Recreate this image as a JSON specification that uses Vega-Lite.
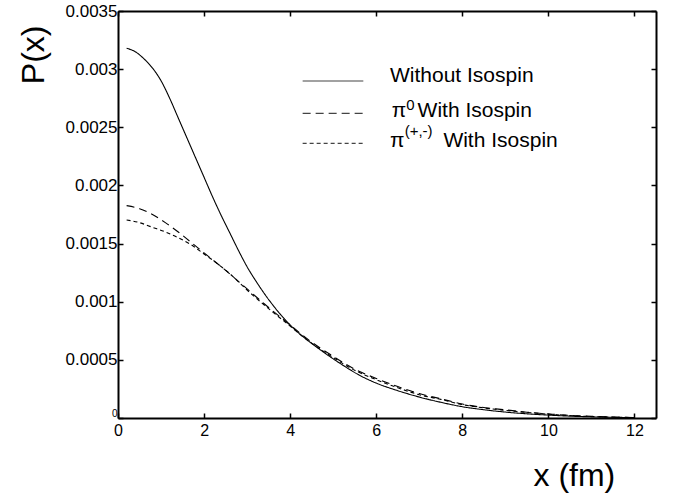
{
  "$schema": "https://vega.github.io/schema/vega-lite/v6.json",
  "width": 538,
  "height": 407,
  "autosize": "none",
  "padding": {"left": 118, "top": 11, "right": 19, "bottom": 75},
  "background": "white",
  "config": {
    "font": "Liberation Sans",
    "view": {"stroke": null},
    "axis": {"grid": false, "domainColor": "black", "tickColor": "black", "labelColor": "black", "titleColor": "black", "labelFont": "Liberation Sans", "titleFont": "Liberation Sans", "titleFontWeight": "normal"}
  },
  "datasets": {
    "curves": [
      {"series": "Without Isospin", "x": 0.2, "P": 0.00318},
      {"series": "Without Isospin", "x": 0.4, "P": 0.00315},
      {"series": "Without Isospin", "x": 0.6, "P": 0.00309},
      {"series": "Without Isospin", "x": 0.8, "P": 0.00301},
      {"series": "Without Isospin", "x": 1.0, "P": 0.0029},
      {"series": "Without Isospin", "x": 1.2, "P": 0.00275},
      {"series": "Without Isospin", "x": 1.4, "P": 0.00258},
      {"series": "Without Isospin", "x": 1.6, "P": 0.00241},
      {"series": "Without Isospin", "x": 1.8, "P": 0.00224},
      {"series": "Without Isospin", "x": 2.0, "P": 0.00207},
      {"series": "Without Isospin", "x": 2.2, "P": 0.0019},
      {"series": "Without Isospin", "x": 2.4, "P": 0.00174},
      {"series": "Without Isospin", "x": 2.6, "P": 0.00159},
      {"series": "Without Isospin", "x": 2.8, "P": 0.00144},
      {"series": "Without Isospin", "x": 3.0, "P": 0.0013},
      {"series": "Without Isospin", "x": 3.2, "P": 0.00118},
      {"series": "Without Isospin", "x": 3.4, "P": 0.00107},
      {"series": "Without Isospin", "x": 3.6, "P": 0.00097},
      {"series": "Without Isospin", "x": 3.8, "P": 0.00088},
      {"series": "Without Isospin", "x": 4.0, "P": 0.0008},
      {"series": "Without Isospin", "x": 4.2, "P": 0.00073},
      {"series": "Without Isospin", "x": 4.4, "P": 0.00067},
      {"series": "Without Isospin", "x": 4.8, "P": 0.00056},
      {"series": "Without Isospin", "x": 5.2, "P": 0.00046},
      {"series": "Without Isospin", "x": 5.6, "P": 0.00037},
      {"series": "Without Isospin", "x": 6.0, "P": 0.0003},
      {"series": "Without Isospin", "x": 6.5, "P": 0.000235},
      {"series": "Without Isospin", "x": 7.0, "P": 0.00018},
      {"series": "Without Isospin", "x": 7.5, "P": 0.000135},
      {"series": "Without Isospin", "x": 8.0, "P": 0.000097},
      {"series": "Without Isospin", "x": 8.5, "P": 0.000071},
      {"series": "Without Isospin", "x": 9.0, "P": 0.000051},
      {"series": "Without Isospin", "x": 9.5, "P": 0.000036},
      {"series": "Without Isospin", "x": 10.0, "P": 0.000025},
      {"series": "Without Isospin", "x": 10.5, "P": 0.000016},
      {"series": "Without Isospin", "x": 11.0, "P": 0.00001},
      {"series": "Without Isospin", "x": 11.5, "P": 0.000006},
      {"series": "Without Isospin", "x": 12.0, "P": 0.000003},
      {"series": "π0 With Isospin", "x": 0.2, "P": 0.001826},
      {"series": "π0 With Isospin", "x": 0.5, "P": 0.0018},
      {"series": "π0 With Isospin", "x": 0.8, "P": 0.00175},
      {"series": "π0 With Isospin", "x": 1.1, "P": 0.00168},
      {"series": "π0 With Isospin", "x": 1.4, "P": 0.0016},
      {"series": "π0 With Isospin", "x": 1.7, "P": 0.00151},
      {"series": "π0 With Isospin", "x": 2.0, "P": 0.00142},
      {"series": "π0 With Isospin", "x": 2.5, "P": 0.00127},
      {"series": "π0 With Isospin", "x": 3.0, "P": 0.00111},
      {"series": "π0 With Isospin", "x": 3.5, "P": 0.00095},
      {"series": "π0 With Isospin", "x": 4.0, "P": 0.0008},
      {"series": "π0 With Isospin", "x": 4.4, "P": 0.00068},
      {"series": "π0 With Isospin", "x": 5.0, "P": 0.00053},
      {"series": "π0 With Isospin", "x": 5.5, "P": 0.00042},
      {"series": "π0 With Isospin", "x": 6.0, "P": 0.00034},
      {"series": "π0 With Isospin", "x": 6.5, "P": 0.00027},
      {"series": "π0 With Isospin", "x": 7.0, "P": 0.00021},
      {"series": "π0 With Isospin", "x": 7.5, "P": 0.000165},
      {"series": "π0 With Isospin", "x": 8.0, "P": 0.00012},
      {"series": "π0 With Isospin", "x": 8.5, "P": 0.00009},
      {"series": "π0 With Isospin", "x": 9.0, "P": 0.00007},
      {"series": "π0 With Isospin", "x": 9.5, "P": 0.00005},
      {"series": "π0 With Isospin", "x": 10.0, "P": 0.000035},
      {"series": "π0 With Isospin", "x": 10.5, "P": 0.000022},
      {"series": "π0 With Isospin", "x": 11.0, "P": 0.000014},
      {"series": "π0 With Isospin", "x": 11.5, "P": 0.000008},
      {"series": "π0 With Isospin", "x": 12.0, "P": 0.000004},
      {"series": "π(+,-) With Isospin", "x": 0.2, "P": 0.001703},
      {"series": "π(+,-) With Isospin", "x": 0.5, "P": 0.00168},
      {"series": "π(+,-) With Isospin", "x": 0.8, "P": 0.00164},
      {"series": "π(+,-) With Isospin", "x": 1.1, "P": 0.0016},
      {"series": "π(+,-) With Isospin", "x": 1.4, "P": 0.00155},
      {"series": "π(+,-) With Isospin", "x": 1.7, "P": 0.00149},
      {"series": "π(+,-) With Isospin", "x": 2.0, "P": 0.00141},
      {"series": "π(+,-) With Isospin", "x": 2.3, "P": 0.00133},
      {"series": "π(+,-) With Isospin", "x": 2.6, "P": 0.00124},
      {"series": "π(+,-) With Isospin", "x": 3.0, "P": 0.0011},
      {"series": "π(+,-) With Isospin", "x": 3.5, "P": 0.00094},
      {"series": "π(+,-) With Isospin", "x": 4.0, "P": 0.00079},
      {"series": "π(+,-) With Isospin", "x": 4.4, "P": 0.00067},
      {"series": "π(+,-) With Isospin", "x": 5.0, "P": 0.00052},
      {"series": "π(+,-) With Isospin", "x": 5.5, "P": 0.00041},
      {"series": "π(+,-) With Isospin", "x": 6.0, "P": 0.00033},
      {"series": "π(+,-) With Isospin", "x": 6.5, "P": 0.00026},
      {"series": "π(+,-) With Isospin", "x": 7.0, "P": 0.0002},
      {"series": "π(+,-) With Isospin", "x": 7.5, "P": 0.00016},
      {"series": "π(+,-) With Isospin", "x": 8.0, "P": 0.000115},
      {"series": "π(+,-) With Isospin", "x": 8.5, "P": 0.000087},
      {"series": "π(+,-) With Isospin", "x": 9.0, "P": 0.000066},
      {"series": "π(+,-) With Isospin", "x": 9.5, "P": 0.000048},
      {"series": "π(+,-) With Isospin", "x": 10.0, "P": 0.000033},
      {"series": "π(+,-) With Isospin", "x": 10.5, "P": 0.000021},
      {"series": "π(+,-) With Isospin", "x": 11.0, "P": 0.000013},
      {"series": "π(+,-) With Isospin", "x": 11.5, "P": 0.000007},
      {"series": "π(+,-) With Isospin", "x": 12.0, "P": 0.000004}
    ],
    "legendLines": [
      {"series": "Without Isospin", "x0": 4.29, "x1": 5.7, "y": 0.002898},
      {"series": "π0 With Isospin", "x0": 4.29, "x1": 5.7, "y": 0.00262},
      {"series": "π(+,-) With Isospin", "x0": 4.29, "x1": 5.7, "y": 0.002362}
    ],
    "legendText": [
      {"text": "Without Isospin", "x": 6.32, "y": 0.002892},
      {"text": "With Isospin", "x": 6.96, "y": 0.002591},
      {"text": "With Isospin", "x": 7.56, "y": 0.002333}
    ],
    "legendPi": [
      {"text": "π", "x": 6.36, "y": 0.002591},
      {"text": "π", "x": 6.32, "y": 0.002333}
    ],
    "legendSup": [
      {"text": "0", "x": 6.7, "y": 0.002646},
      {"text": "(+,-)", "x": 6.66, "y": 0.002425}
    ]
  },
  "resolve": {"axis": {"x": "independent", "y": "independent"}},
  "layer": [
    {
      "data": {"name": "curves"},
      "mark": {"type": "line", "color": "black", "strokeWidth": 1.1, "clip": true, "interpolate": "monotone"},
      "encoding": {
        "x": {"field": "x", "type": "quantitative", "scale": {"domain": [0, 12.5], "nice": false, "zero": false},
          "axis": {"orient": "bottom", "values": [0, 2, 4, 6, 8, 10, 12], "title": "x (fm)", "titleFontSize": 32, "titleX": 415, "titleY": 67, "titleAlign": "left", "titleBaseline": "alphabetic", "titleAnchor": null, "labelFontSize": 16, "labelPadding": 9, "tickSize": -5, "tickWidth": 1.5, "domainWidth": 2, "labelFlush": false}},
        "y": {"field": "P", "type": "quantitative", "scale": {"domain": [0, 0.0035], "nice": false},
          "axis": {"orient": "left", "values": [0, 0.0005, 0.001, 0.0015, 0.002, 0.0025, 0.003, 0.0035], "labelExpr": "datum.value == 0 ? '0\u00a0\u00a0' : format(datum.value, '.4~f')", "title": "P(x)", "titleFontSize": 32, "titleX": -75, "titleY": 14, "titleAngle": -90, "titleAlign": "right", "titleBaseline": "alphabetic", "titleAnchor": null, "labelFontSize": {"condition": {"test": "datum.value == 0", "value": 10}, "value": 17}, "labelBaseline": {"condition": {"test": "datum.value == 0", "value": "bottom"}, "value": "middle"}, "labelPadding": 6, "tickSize": -5, "tickWidth": 1.5, "domainWidth": 2, "labelFlush": false}},
        "strokeDash": {"field": "series", "type": "nominal", "scale": {"domain": ["Without Isospin", "π0 With Isospin", "π(+,-) With Isospin"], "range": [[1, 0], [8, 5], [4, 3]]}, "legend": null}
      }
    },
    {
      "data": {"name": "legendLines"},
      "mark": {"type": "rule", "strokeWidth": 1.1},
      "encoding": {
        "x": {"field": "x0", "type": "quantitative", "axis": {"orient": "top", "values": [0, 2, 4, 6, 8, 10, 12], "labels": false, "title": null, "tickSize": -5, "tickWidth": 1.5, "domainWidth": 2}},
        "x2": {"field": "x1"},
        "y": {"field": "y", "type": "quantitative", "axis": {"orient": "right", "values": [0, 0.0005, 0.001, 0.0015, 0.002, 0.0025, 0.003, 0.0035], "labels": false, "title": null, "tickSize": -5, "tickWidth": 1.5, "domainWidth": 2}},
        "strokeDash": {"field": "series", "type": "nominal", "legend": null},
        "color": {"value": "#444444"}
      }
    },
    {
      "data": {"name": "legendText"},
      "mark": {"type": "text", "align": "left", "baseline": "alphabetic", "fontSize": 21, "font": "Liberation Sans", "color": "black"},
      "encoding": {
        "x": {"field": "x", "type": "quantitative", "axis": null},
        "y": {"field": "y", "type": "quantitative", "axis": null},
        "text": {"field": "text"}
      }
    },
    {
      "data": {"name": "legendPi"},
      "mark": {"type": "text", "align": "left", "baseline": "alphabetic", "fontSize": 21, "font": "Liberation Sans", "color": "black"},
      "encoding": {
        "x": {"field": "x", "type": "quantitative", "axis": null},
        "y": {"field": "y", "type": "quantitative", "axis": null},
        "text": {"field": "text"}
      }
    },
    {
      "data": {"name": "legendSup"},
      "mark": {"type": "text", "align": "left", "baseline": "alphabetic", "fontSize": 15, "font": "Liberation Sans", "color": "black"},
      "encoding": {
        "x": {"field": "x", "type": "quantitative", "axis": null},
        "y": {"field": "y", "type": "quantitative", "axis": null},
        "text": {"field": "text"}
      }
    }
  ]
}
